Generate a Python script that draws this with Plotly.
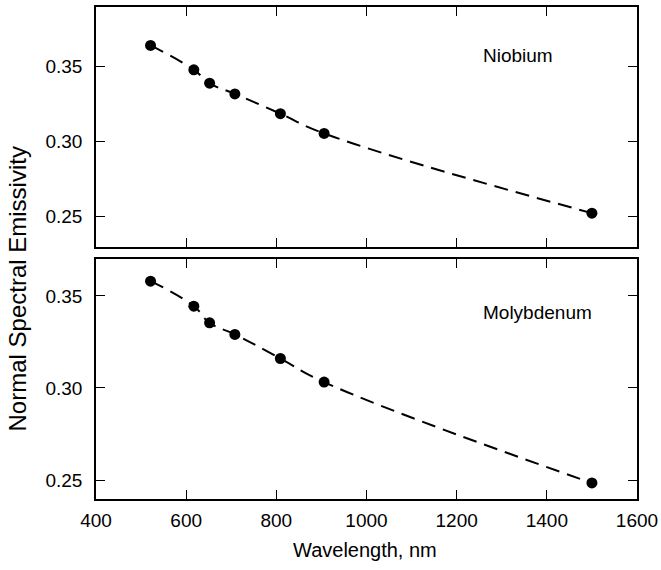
import plotly.graph_objects as go

wavelength = [521, 617, 652, 708, 809, 906, 1500]
niobium = [0.3643, 0.348, 0.3391, 0.3319, 0.3187, 0.3055, 0.2522]
molybdenum = [0.358, 0.3444, 0.3354, 0.3291, 0.316, 0.3032, 0.2484]
x_ticks = [400, 600, 800, 1000, 1200, 1400, 1600]
y_ticks = [0.25, 0.30, 0.35]
y_tick_text = ["0.25", "0.30", "0.35"]

FONT = "Liberation Sans, Arial, sans-serif"

fig = go.Figure()
for vals, xa, ya in [(niobium, "x", "y"), (molybdenum, "x2", "y2")]:
    fig.add_trace(go.Scatter(
        x=wavelength, y=vals, xaxis=xa, yaxis=ya, mode="lines+markers",
        line=dict(color="black", width=2, dash="14px,8px", shape="spline", smoothing=1.3),
        marker=dict(color="black", size=11),
        showlegend=False, hoverinfo="skip"))

ax_common = dict(showline=True, linecolor="black", linewidth=1.6, mirror="ticks",
                 ticks="inside", ticklen=9, tickwidth=1.4, tickcolor="black",
                 showgrid=False, zeroline=False, automargin=False,
                 tickfont=dict(family=FONT, size=19, color="black"))

fig.update_layout(
    width=661, height=570, plot_bgcolor="white", paper_bgcolor="white",
    margin=dict(l=96, r=24, t=7, b=71),
    xaxis=dict(domain=[0, 1], range=[400, 1600], tickvals=x_ticks, showticklabels=False,
               anchor="y", **ax_common),
    yaxis=dict(domain=[0.512, 1], range=[0.2295, 0.39], tickvals=y_ticks, ticktext=y_tick_text,
               anchor="x", ticklabelstandoff=8, **ax_common),
    xaxis2=dict(domain=[0, 1], range=[400, 1600], tickvals=x_ticks, anchor="y2",
                ticklabelstandoff=3, **ax_common),
    yaxis2=dict(domain=[0, 0.488], range=[0.2397, 0.3701], tickvals=y_ticks, ticktext=y_tick_text,
                anchor="x2", ticklabelstandoff=8, **ax_common),
    annotations=[
        dict(text="Niobium", x=0.780, y=0.902, xref="paper", yref="paper", showarrow=False,
             xanchor="center", yanchor="middle",
             font=dict(family=FONT, size=19, color="black")),
        dict(text="Molybdenum", x=0.817, y=0.380, xref="paper", yref="paper", showarrow=False,
             xanchor="center", yanchor="middle",
             font=dict(family=FONT, size=19, color="black")),
        dict(text="Normal Spectral Emissivity", x=-0.145, y=0.427, xref="paper", yref="paper",
             textangle=-90, showarrow=False, xanchor="center", yanchor="middle",
             font=dict(family=FONT, size=24, color="black")),
        dict(text="Wavelength, nm", x=0.497, y=-0.104, xref="paper", yref="paper",
             showarrow=False, xanchor="center", yanchor="middle",
             font=dict(family=FONT, size=20, color="black")),
    ],
)

fig.write_html("out.html", config={"displayModeBar": False},
               post_script="document.body.style.margin='0';")
